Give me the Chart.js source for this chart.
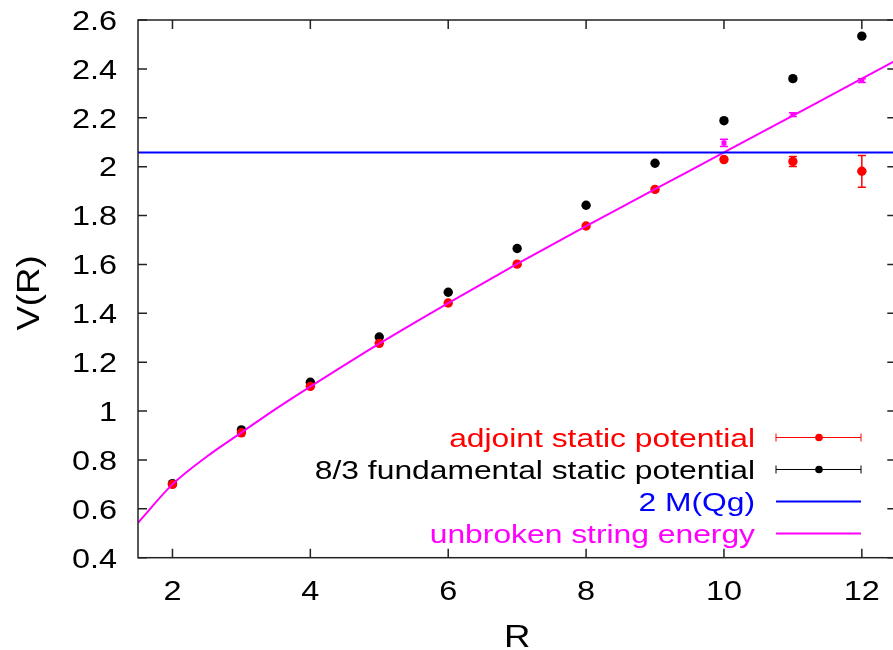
<!DOCTYPE html>
<html>
<head>
<meta charset="utf-8">
<script src="https://cdn.jsdelivr.net/npm/chart.js@4/dist/chart.umd.min.js"></script>
<style>
  html, body { margin: 0; padding: 0; background: #fff; overflow: hidden; }
  #wrap { width: 901px; height: 650px; }
</style>
</head>
<body>
<div id="wrap"><canvas id="chart" width="901" height="650"></canvas></div>
<script>
// Static potentials vs separation R
const rValues = [2, 3, 4, 5, 6, 7, 8, 9, 10, 11, 12];
const adjointV = [0.700, 0.911, 1.101, 1.277, 1.442, 1.601, 1.757, 1.907, 2.029, 2.021, 1.981];
const adjointErr = [0.002, 0.002, 0.002, 0.003, 0.003, 0.003, 0.004, 0.004, 0.005, 0.02, 0.065];
const fundamentalV = [0.703, 0.923, 1.118, 1.303, 1.486, 1.665, 1.842, 2.014, 2.188, 2.360, 2.534];
const fundamentalErr = [0.001, 0.001, 0.001, 0.001, 0.002, 0.002, 0.002, 0.002, 0.003, 0.003, 0.004];

// unbroken string measurements (only where the string is unstable)
const stringR = [10, 11, 12];
const stringV = [2.097, 2.213, 2.352];
const stringErr = [0.015, 0.008, 0.008];

// unbroken string energy curve
const curveR = [1.5, 2, 2.5, 3, 3.5, 4, 5, 6, 7, 8, 9, 10, 11, 12, 12.5];
const curveV = [0.543, 0.700, 0.814, 0.912, 1.009, 1.100, 1.276, 1.442, 1.602, 1.757, 1.908, 2.058, 2.209, 2.360, 2.436];

// 2 M(Qg) level
const massR = [1.5, 12.5];
const massV = [2.058, 2.058];

const xTicks = [2, 4, 6, 8, 10, 12];
const yTicks = [0.4, 0.6, 0.8, 1, 1.2, 1.4, 1.6, 1.8, 2, 2.2, 2.4, 2.6];
const legendLabels = ['adjoint static potential', '8/3 fundamental static potential', '2 M(Qg)', 'unbroken string energy'];
const legendColors = ['#ff0000', '#000000', '#0000ff', '#ff00ff'];

const FONT = '"Liberation Sans", Arial, sans-serif';

const pts = (xs, ys) => xs.map((x, i) => ({ x: x, y: ys[i] }));

// Text helper: gnuplot's font is wider than Arial, so stretch it
function drawText(ctx, text, x, y, size, align, color, rotate, stretch) {
  ctx.save();
  ctx.translate(x, y);
  if (rotate) ctx.rotate(-Math.PI / 2);
  ctx.scale(stretch || 1.18, 1);
  ctx.font = size + 'px ' + FONT;
  ctx.fillStyle = color;
  ctx.textAlign = align;
  ctx.textBaseline = 'alphabetic';
  ctx.fillText(text, 0, size * 0.358);
  ctx.restore();
}

const errorBars = {
  id: 'errorBars',
  beforeDatasetsDraw(chart) {
    const ctx = chart.ctx;
    const xs = chart.scales.x, ys = chart.scales.y;
    const sets = [
      [rValues, fundamentalV, fundamentalErr, '#000000'],
      [rValues, adjointV, adjointErr, '#ff0000'],
      [stringR, stringV, stringErr, '#ff00ff'],
    ];
    ctx.save();
    ctx.lineWidth = 1.5;
    sets.forEach(([rs, vs, es, color]) => {
      ctx.strokeStyle = color;
      rs.forEach((r, i) => {
        const px = xs.getPixelForValue(r);
        const top = ys.getPixelForValue(vs[i] + es[i]);
        const bot = ys.getPixelForValue(vs[i] - es[i]);
        if (bot - top < 3) return;
        ctx.beginPath();
        ctx.moveTo(px, top); ctx.lineTo(px, bot);
        ctx.moveTo(px - 4, top); ctx.lineTo(px + 4, top);
        ctx.moveTo(px - 4, bot); ctx.lineTo(px + 4, bot);
        ctx.stroke();
      });
    });
    ctx.restore();
  },
};

const frameAndText = {
  id: 'frameAndText',
  afterDraw(chart) {
    const ctx = chart.ctx;
    const a = chart.chartArea;
    const xs = chart.scales.x, ys = chart.scales.y;

    // border with inward ticks on all sides
    ctx.save();
    ctx.strokeStyle = '#222';
    ctx.lineWidth = 1.5;
    ctx.strokeRect(a.left, a.top, a.right - a.left, a.bottom - a.top);
    ctx.beginPath();
    xTicks.forEach(v => {
      const px = xs.getPixelForValue(v);
      ctx.moveTo(px, a.bottom); ctx.lineTo(px, a.bottom - 9);
      ctx.moveTo(px, a.top); ctx.lineTo(px, a.top + 9);
    });
    yTicks.forEach(v => {
      const py = ys.getPixelForValue(v);
      ctx.moveTo(a.left, py); ctx.lineTo(a.left + 9, py);
      ctx.moveTo(a.right, py); ctx.lineTo(a.right - 9, py);
    });
    ctx.stroke();
    ctx.restore();

    // tick labels
    xTicks.forEach(v => drawText(ctx, String(v), xs.getPixelForValue(v), 590, 27.5, 'center', '#000'));
    yTicks.forEach(v => drawText(ctx, String(v), 117, ys.getPixelForValue(v), 27.5, 'right', '#000'));

    // axis titles
    drawText(ctx, 'R', (a.left + a.right) / 2, 636, 31, 'center', '#000');
    drawText(ctx, 'V(R)', 28, 293, 31, 'center', '#000', true);

    // legend
    const sx0 = 776, sx1 = 861, sxm = 819;
    legendLabels.forEach((label, i) => {
      const yc = 437.5 + i * 32;
      const color = legendColors[i];
      drawText(ctx, label, 755, yc, 26.5, 'right', color, false, 1.2);
      ctx.save();
      ctx.strokeStyle = color;
      ctx.fillStyle = color;
      ctx.beginPath();
      if (i < 2) {
        ctx.lineWidth = 1;
        ctx.moveTo(sx0, yc); ctx.lineTo(sx1, yc);
        ctx.moveTo(sx0, yc - 4); ctx.lineTo(sx0, yc + 4);
        ctx.moveTo(sx1, yc - 4); ctx.lineTo(sx1, yc + 4);
        ctx.stroke();
        ctx.beginPath();
        ctx.arc(sxm, yc, 3.8, 0, Math.PI * 2);
        ctx.fill();
      } else {
        ctx.lineWidth = 2;
        ctx.moveTo(sx0, yc); ctx.lineTo(sx1, yc);
        ctx.stroke();
      }
      ctx.restore();
    });
  },
};

new Chart(document.getElementById('chart'), {
  type: 'scatter',
  data: {
    datasets: [
      {
        label: '2 M(Qg)',
        data: pts(massR, massV),
        showLine: true,
        borderColor: '#0000ff',
        borderWidth: 2,
        pointRadius: 0,
        order: 1,
      },
      {
        label: 'unbroken string energy',
        data: pts(curveR, curveV),
        showLine: true,
        borderColor: '#ff00ff',
        borderWidth: 2,
        pointRadius: 0,
        cubicInterpolationMode: 'monotone',
        order: 2,
      },
      {
        label: 'unbroken string points',
        data: pts(stringR, stringV),
        pointStyle: 'rect',
        pointRadius: 3.5,
        backgroundColor: '#ff00ff',
        borderWidth: 0,
        order: 2,
      },
      {
        label: 'adjoint static potential',
        data: pts(rValues, adjointV),
        pointRadius: 4.7,
        backgroundColor: '#ff0000',
        borderWidth: 0,
        order: 3,
      },
      {
        label: '8/3 fundamental static potential',
        data: pts(rValues, fundamentalV),
        pointRadius: 4.7,
        backgroundColor: '#000000',
        borderWidth: 0,
        order: 4,
      },
    ],
  },
  options: {
    responsive: false,
    devicePixelRatio: 1,
    animation: false,
    layout: { padding: { top: 20, right: 1, bottom: 0, left: 0 } },
    plugins: { legend: { display: false }, tooltip: { enabled: false } },
    scales: {
      x: {
        type: 'linear',
        min: 1.5,
        max: 12.5,
        afterBuildTicks: s => { s.ticks = xTicks.map(v => ({ value: v })); },
        afterFit: s => { s.height = 92.3; },
        ticks: { display: false },
        grid: { display: false },
        border: { display: false },
      },
      y: {
        type: 'linear',
        min: 0.4,
        max: 2.6,
        afterBuildTicks: s => { s.ticks = yTicks.map(v => ({ value: v })); },
        afterFit: s => { s.width = 138; },
        ticks: { display: false },
        grid: { display: false },
        border: { display: false },
      },
    },
  },
  plugins: [errorBars, frameAndText],
});
</script>
</body>
</html>
